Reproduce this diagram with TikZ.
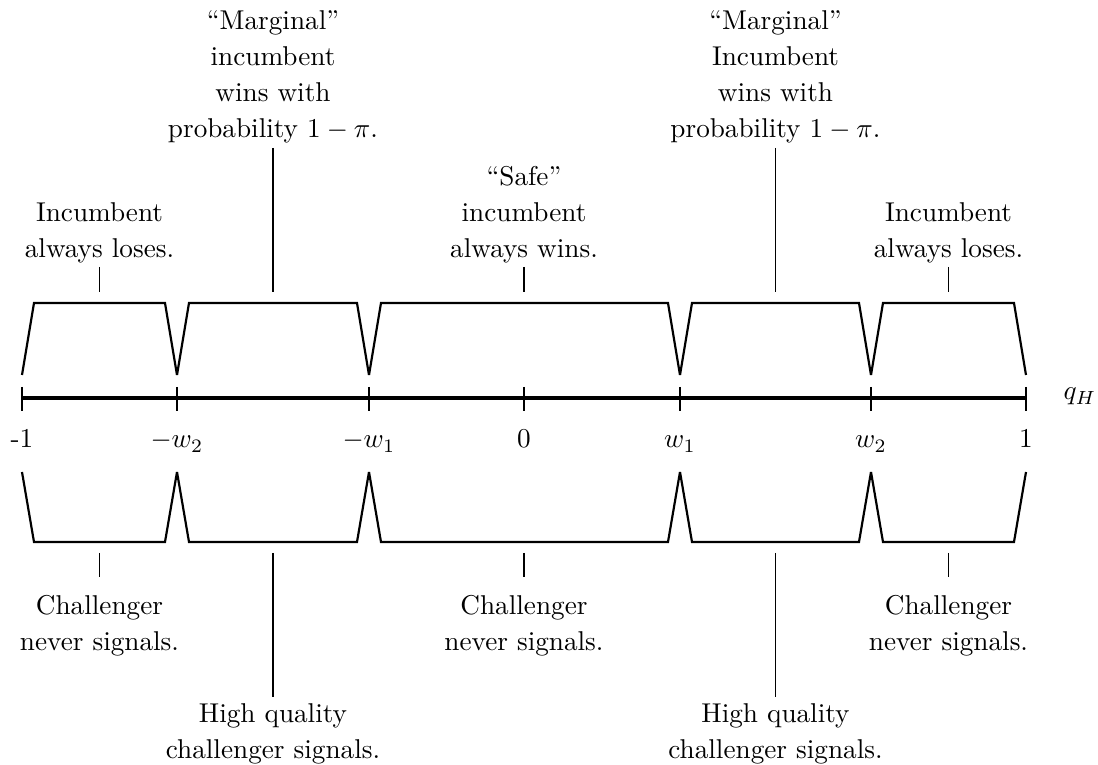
\documentclass[tikz,border=0pt]{standalone}
\begin{document}
\begin{tikzpicture}[x=0.3676pt,y=-0.3676pt,
  lab/.style={align=center,inner sep=0pt,font=\fontsize{10}{13.2}\selectfont,anchor=north},
  ticklab/.style={inner sep=0pt,anchor=base,font=\fontsize{10}{12}\selectfont},
  brace/.style={line width=0.8pt,line join=miter},
  axisline/.style={line width=1.8pt},
  tickmark/.style={line width=0.4pt},
  pointer/.style={line width=0.4pt}]
\useasboundingbox (0,0) rectangle (1098,765);

% axis points
\coordinate (p1) at (22,398);
\coordinate (p2) at (177,398);
\coordinate (p3) at (369,398);
\coordinate (p4) at (524,398);
\coordinate (p5) at (680,398);
\coordinate (p6) at (871,398);
\coordinate (p7) at (1026,398);
\draw[axisline] (p1) -- (p7);
\foreach \x in {22,177,369,524,680,871,1026}
  \draw[tickmark] (\x,387) -- (\x,411);

\node[ticklab] (l1) at (22,448) {-1};
\node[ticklab] (l2) at (177,448) {$-w_2$};
\node[ticklab] (l3) at (369,448) {$-w_1$};
\node[ticklab] (l4) at (524,448) {$0$};
\node[ticklab] (l5) at (680,448) {$w_1$};
\node[ticklab] (l6) at (871,448) {$w_2$};
\node[ticklab] (l7) at (1026,448) {$1$};
\node[anchor=base west,inner sep=0pt] (q) at (1063,400) {$q_H$};

% braces
\foreach \a/\b in {22/177,177/369,369/680,680/871,871/1026}{
  \draw[brace] (\a,375) -- (\a+12,303) -- (\b-12,303) -- (\b,375);
  \draw[brace] (\a,472) -- (\a+12,542) -- (\b-12,542) -- (\b,472);
}

% upper labels
\node[lab] (u1) at (99.5,202) {Incumbent\\always loses.};
\node[lab] (u2) at (273,10) {“Marginal”\\incumbent\\wins with\\probability $1-\pi$.};
\node[lab] (u3) at (524,166) {“Safe”\\incumbent\\always wins.};
\node[lab] (u4) at (775.5,10) {“Marginal”\\Incumbent\\wins with\\probability $1-\pi$.};
\node[lab] (u5) at (948.5,202) {Incumbent\\always loses.};

% lower labels
\node[lab] (d1) at (99.5,595) {Challenger\\never signals.};
\node[lab] (d2) at (273,703) {High quality\\challenger signals.};
\node[lab] (d3) at (524,595) {Challenger\\never signals.};
\node[lab] (d4) at (775.5,703) {High quality\\challenger signals.};
\node[lab] (d5) at (948.5,595) {Challenger\\never signals.};

% pointer end points
\coordinate (u1a) at (99.5,267);  \coordinate (u1b) at (99.5,292);
\coordinate (u2a) at (273,148);   \coordinate (u2b) at (273,292);
\coordinate (u3a) at (524,267);   \coordinate (u3b) at (524,292);
\coordinate (u4a) at (775.5,148); \coordinate (u4b) at (775.5,292);
\coordinate (u5a) at (948.5,267); \coordinate (u5b) at (948.5,292);
\coordinate (d1a) at (99.5,553);  \coordinate (d1b) at (99.5,577);
\coordinate (d2a) at (273,553);   \coordinate (d2b) at (273,697);
\coordinate (d3a) at (524,553);   \coordinate (d3b) at (524,577);
\coordinate (d4a) at (775.5,553); \coordinate (d4b) at (775.5,697);
\coordinate (d5a) at (948.5,553); \coordinate (d5b) at (948.5,577);
\foreach \n in {u1,u2,u3,u4,u5,d1,d2,d3,d4,d5}
  \draw[pointer] (\n a) -- (\n b);
\end{tikzpicture}
\end{document}
